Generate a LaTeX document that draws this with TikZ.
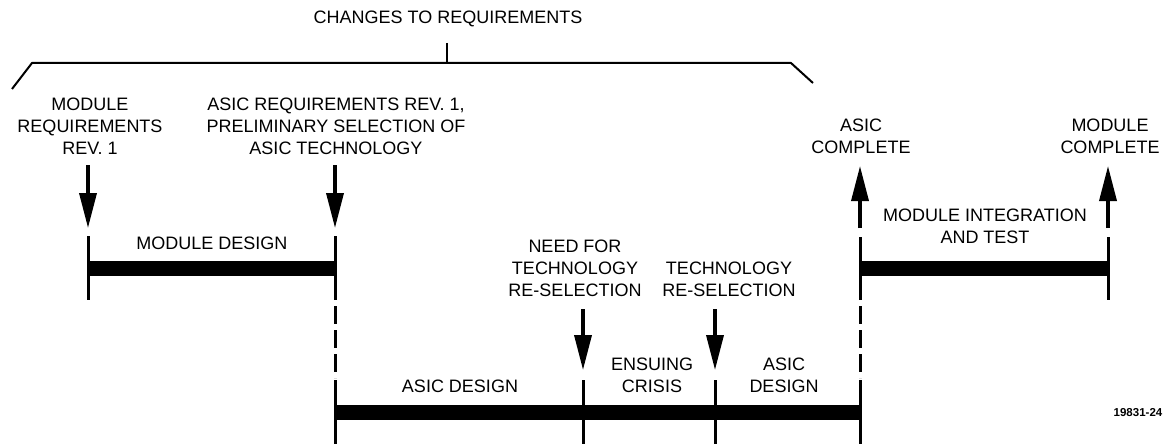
\documentclass[tikz,border=0pt]{standalone}
\usepackage{fontspec}
\setmainfont{Liberation Sans}
\usetikzlibrary{arrows.meta}
\begin{document}
\begin{tikzpicture}[x=1pt,y=-1pt,
  lbl/.style={font=\fontsize{18}{22}\selectfont, align=center, inner sep=0pt},
  arr/.style={line width=3.5pt, -{Triangle[length=35pt,width=17pt]}},
  tick/.style={line width=3pt},
  dtick/.style={line width=3pt, dash pattern=on 18pt off 6pt},
  bar/.style={line width=15pt},
  brace/.style={line width=2pt, line join=round}]
\useasboundingbox (0,0) rectangle (1168,444);
% texts
\node[lbl] (title) at (448,19) {CHANGES TO REQUIREMENTS};
\node[lbl] (modreq) at (90,126) {MODULE\\REQUIREMENTS\\REV. 1};
\node[lbl] (asicreq) at (336,126) {ASIC REQUIREMENTS REV. 1,\\PRELIMINARY SELECTION OF\\ASIC TECHNOLOGY};
\node[lbl] (asiccomp) at (861,136) {ASIC\\COMPLETE};
\node[lbl] (modcomp) at (1110,136) {MODULE\\COMPLETE};
\node[lbl] (moddes) at (212,243) {MODULE DESIGN};
\node[lbl] (need) at (575,268) {NEED FOR\\TECHNOLOGY\\RE-SELECTION};
\node[lbl] (tres) at (729,279.5) {TECHNOLOGY\\RE-SELECTION};
\node[lbl] (ad1) at (460,386) {ASIC DESIGN};
\node[lbl] (ens) at (652,375) {ENSUING\\CRISIS};
\node[lbl] (ad2) at (784,375) {ASIC\\DESIGN};
\node[lbl] (integ) at (985,226.5) {MODULE INTEGRATION\\AND TEST};
\node[font=\bfseries\fontsize{11.5}{13}\selectfont, inner sep=0pt] (fig) at (1138,413) {19831-24};
% brace
\coordinate (b1) at (12,89);
\coordinate (b2) at (32,63);
\coordinate (b3) at (791,63);
\coordinate (b4) at (813,83);
\coordinate (bt) at (447,43);
\coordinate (bm) at (447,63);
\draw[brace] (b1) -- (b2) -- (b3) -- (b4);
\draw[brace] (bt) -- (bm);
% arrows
\coordinate (a1s) at (88,165); \coordinate (a1e) at (88,228);
\coordinate (a2s) at (335,165); \coordinate (a2e) at (335,228);
\coordinate (a3s) at (583,309); \coordinate (a3e) at (583,370);
\coordinate (a4s) at (715,309); \coordinate (a4e) at (715,370);
\coordinate (a5s) at (860,228); \coordinate (a5e) at (860,166);
\coordinate (a6s) at (1108,228); \coordinate (a6e) at (1108,166);
\draw[arr] (a1s) -- (a1e);
\draw[arr] (a2s) -- (a2e);
\draw[arr] (a3s) -- (a3e);
\draw[arr] (a4s) -- (a4e);
\draw[arr] (a5s) -- (a5e);
\draw[arr] (a6s) -- (a6e);
% module design
\coordinate (m1t) at (88,236); \coordinate (m1b) at (88,300);
\coordinate (m2t) at (335,236); \coordinate (m2b) at (335,300);
\draw[tick] (m1t) -- (m1b);
\draw[tick] (m2t) -- (m2b);
\draw[bar] (88,268) coordinate (mb1) -- (335,268) coordinate (mb2);
% asic design
\coordinate (d1t) at (335,306); \coordinate (d1m) at (335,378); \coordinate (d1b) at (335,444);
\draw[dtick] (d1t) -- (d1m);
\draw[tick] (335,380) -- (d1b);
\coordinate (d2t) at (583,380); \coordinate (d2b) at (583,444);
\coordinate (d3t) at (715,380); \coordinate (d3b) at (715,444);
\draw[tick] (d2t) -- (d2b);
\draw[tick] (d3t) -- (d3b);
\coordinate (d4t) at (860,306); \coordinate (d4m) at (860,378); \coordinate (d4b) at (860,444);
\draw[dtick] (d4t) -- (d4m);
\draw[tick] (860,380) -- (d4b);
\draw[bar] (335,412) coordinate (ab1) -- (860,412) coordinate (ab2);
% integration
\coordinate (i1t) at (860,237); \coordinate (i1b) at (860,300);
\coordinate (i2t) at (1108,237); \coordinate (i2b) at (1108,300);
\draw[tick] (i1t) -- (i1b);
\draw[tick] (i2t) -- (i2b);
\draw[bar] (860,268) coordinate (ib1) -- (1108,268) coordinate (ib2);
\end{tikzpicture}
\end{document}
